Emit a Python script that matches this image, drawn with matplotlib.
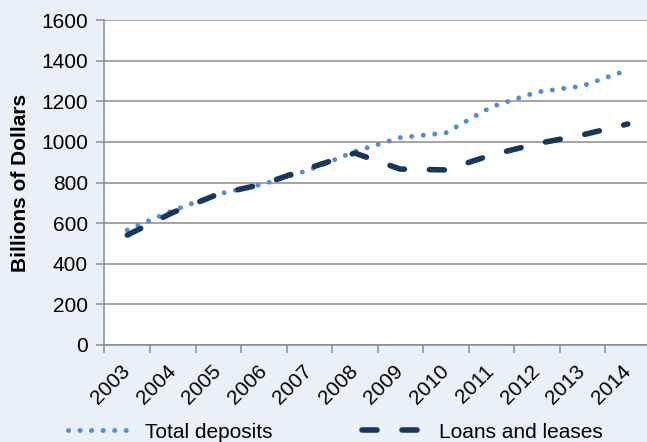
import matplotlib
matplotlib.use("Agg")
import matplotlib.pyplot as plt
import numpy as np

years = ["2003", "2004", "2005", "2006", "2007", "2008",
         "2009", "2010", "2011", "2012", "2013", "2014"]
total_deposits = [566, 662, 743, 793, 862, 952, 1021, 1044, 1172, 1245, 1275, 1354]
loans_and_leases = [541, 652, 743, 793, 871, 945, 866, 862, 935, 991, 1034, 1088]

BG = "#eaf0f7"
GRID = "#8c8c8c"
DEP_COLOR = "#558ed5"
LOAN_COLOR = "#17375e"

plt.rcParams["font.family"] = ["Liberation Sans", "DejaVu Sans"]

fig = plt.figure(figsize=(6.47, 4.42), dpi=100, facecolor=BG)
ax = fig.add_axes([104.5 / 647, 1 - 345 / 442, 546 / 647, 325 / 442])
ax.set_facecolor("white")

x = np.arange(len(years))
ax.plot(x, total_deposits, color=DEP_COLOR, lw=3.6,
        linestyle=(0, (0.01, 2.3)), dash_capstyle="round",
        label="Total deposits", zorder=3)
ax.plot(x, loans_and_leases, color=LOAN_COLOR, lw=4.0,
        linestyle=(0, (2.7, 4.5)), dash_capstyle="round",
        label="Loans and leases", zorder=4)

ax.set_xlim(-0.5, 11.5)
ax.set_ylim(0, 1600)
ax.set_yticks(np.arange(0, 1601, 200))
ax.yaxis.grid(True, color=GRID, lw=1.1)
ax.set_axisbelow(True)

# ticks sit between categories, labels at category centres
ax.set_xticks(np.arange(-0.5, 11, 1))
ax.set_xticklabels([])
ax.set_xticks(x, minor=True)
ax.set_xticklabels(years, minor=True, rotation=45, ha="right",
                   va="center", rotation_mode="anchor", fontsize=15)
ax.tick_params(axis="x", which="minor", length=0, pad=17)
ax.tick_params(axis="x", which="major", length=6, width=1.1, color=GRID)
ax.tick_params(axis="y", length=6, width=1.1, color=GRID, labelsize=15, pad=6)

for side in ["top", "right"]:
    ax.spines[side].set_visible(False)
for side in ["left", "bottom"]:
    ax.spines[side].set_color(GRID)
    ax.spines[side].set_linewidth(1.1)

ax.set_ylabel("Billions of Dollars", fontsize=15, fontweight="bold", labelpad=8)

fig.legend(loc="center left", bbox_to_anchor=(68 / 647, 1 - 432 / 442),
           ncol=2, frameon=False, fontsize=15, handlelength=3.0,
           handletextpad=0.7, columnspacing=4.3, borderpad=0,
           borderaxespad=0)

plt.savefig("out.png", dpi=100, facecolor=BG)
